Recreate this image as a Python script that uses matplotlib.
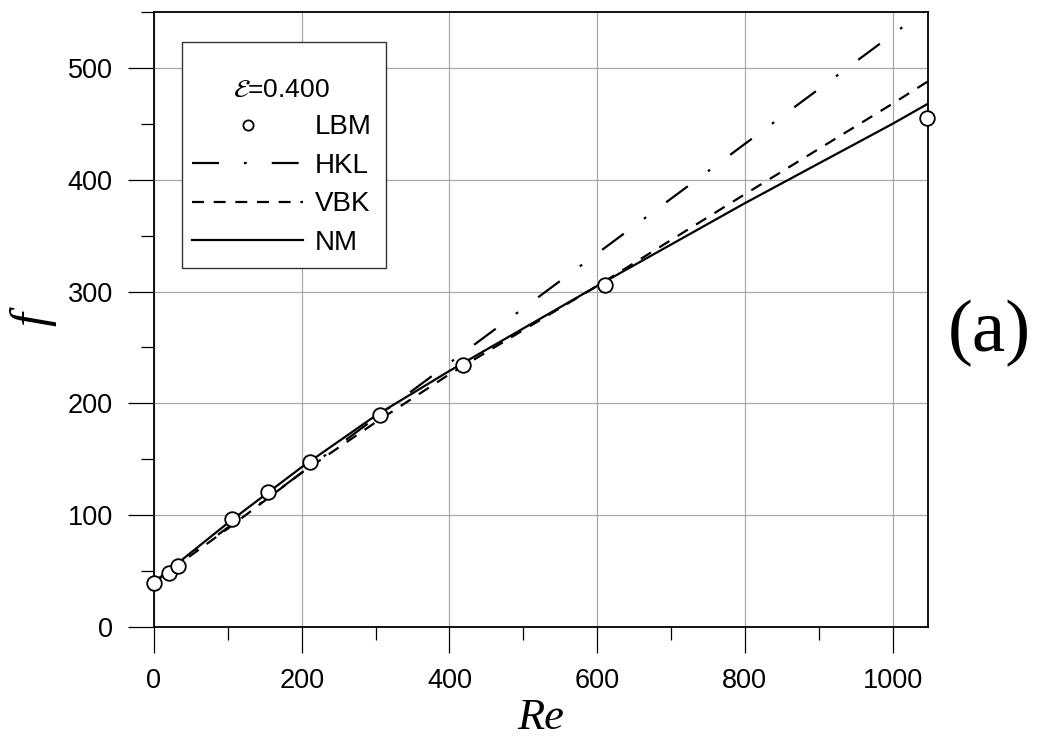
import matplotlib
matplotlib.use("Agg")
import matplotlib.pyplot as plt
from matplotlib.ticker import MultipleLocator
from matplotlib.patches import Rectangle

plt.rcParams['font.family'] = ['Liberation Sans', 'DejaVu Sans']
plt.rcParams['mathtext.fontset'] = 'stix'
plt.rcParams['lines.scale_dashes'] = False

# LBM points
re_lbm = [0, 21, 32, 106, 154, 211, 306, 419, 611, 1046]
f_lbm = [39, 48, 54.5, 97, 121, 147.5, 190, 234, 306, 455]

# model curves
re_hkl = [0, 200, 400, 600, 800, 1000, 1048]
f_hkl = [40, 138, 236, 334, 432, 530, 553]

re_vbk = [0, 100, 200, 300, 400, 600, 800, 1000, 1048]
f_vbk = [40, 88, 138, 183, 226, 305, 387, 468, 488]

re_nm = [0, 100, 200, 300, 400, 600, 800, 1000, 1048]
f_nm = [40, 93, 143, 189, 229, 305, 379, 450, 468]

fig = plt.figure(figsize=(10.46, 7.4), dpi=100)
ax = fig.add_axes([0.1472, 0.1527, 0.74, 0.8311])

ax.plot(re_hkl, f_hkl, color='black', lw=1.6, dashes=(19.4, 18, 2, 18), label='HKL')
ax.plot(re_vbk, f_vbk, color='black', lw=1.6, dashes=(8.6, 7.0), label='VBK')
ax.plot(re_nm, f_nm, color='black', lw=1.6, label='NM')
ax.plot(re_lbm, f_lbm, 'o', ms=10.5, mfc='white', mec='black', mew=1.3,
        label='LBM', clip_on=False, zorder=5)

ax.set_xlim(0, 1048)
ax.set_ylim(0, 550)
ax.xaxis.set_major_locator(MultipleLocator(200))
ax.xaxis.set_minor_locator(MultipleLocator(100))
ax.yaxis.set_major_locator(MultipleLocator(100))
ax.yaxis.set_minor_locator(MultipleLocator(50))
ax.tick_params(which='major', direction='out', length=18.7, width=0.9,
               labelsize=19.5, pad=11)
ax.tick_params(which='minor', direction='out', length=9.4, width=0.9)
ax.grid(True, which='major', color='#a8a8a8', lw=0.9)
ax.set_axisbelow(True)
for s in ax.spines.values():
    s.set_linewidth(1.3)

ax.set_xlabel('Re', fontfamily='Liberation Serif', fontstyle='italic',
              fontsize=32, labelpad=3)
ax.set_ylabel('f', fontfamily='Liberation Serif', fontstyle='italic',
              fontsize=36, labelpad=8)

# legend frame drawn by hand
ax.add_patch(Rectangle((0.0362, 0.5837), 0.2635, 0.3673, transform=ax.transAxes,
                       facecolor='white', edgecolor='#333333', lw=1.0, zorder=4.5))

h, l = ax.get_legend_handles_labels()
order = [3, 0, 1, 2]
leg = ax.legend([h[i] for i in order], [l[i] for i in order],
                title=r'$\mathcal{E}$=0.400', title_fontsize=19, fontsize=20,
                loc='upper left', bbox_to_anchor=(0.0491, 0.893),
                frameon=False, handlelength=4.0, handletextpad=0.43,
                labelspacing=0.45, markerscale=0.7, borderpad=0,
                borderaxespad=0)

fig.text(0.946, 0.55, '(a)', fontfamily='Liberation Serif', fontsize=54,
         ha='center', va='center')

fig.savefig('out.png', dpi=100)
